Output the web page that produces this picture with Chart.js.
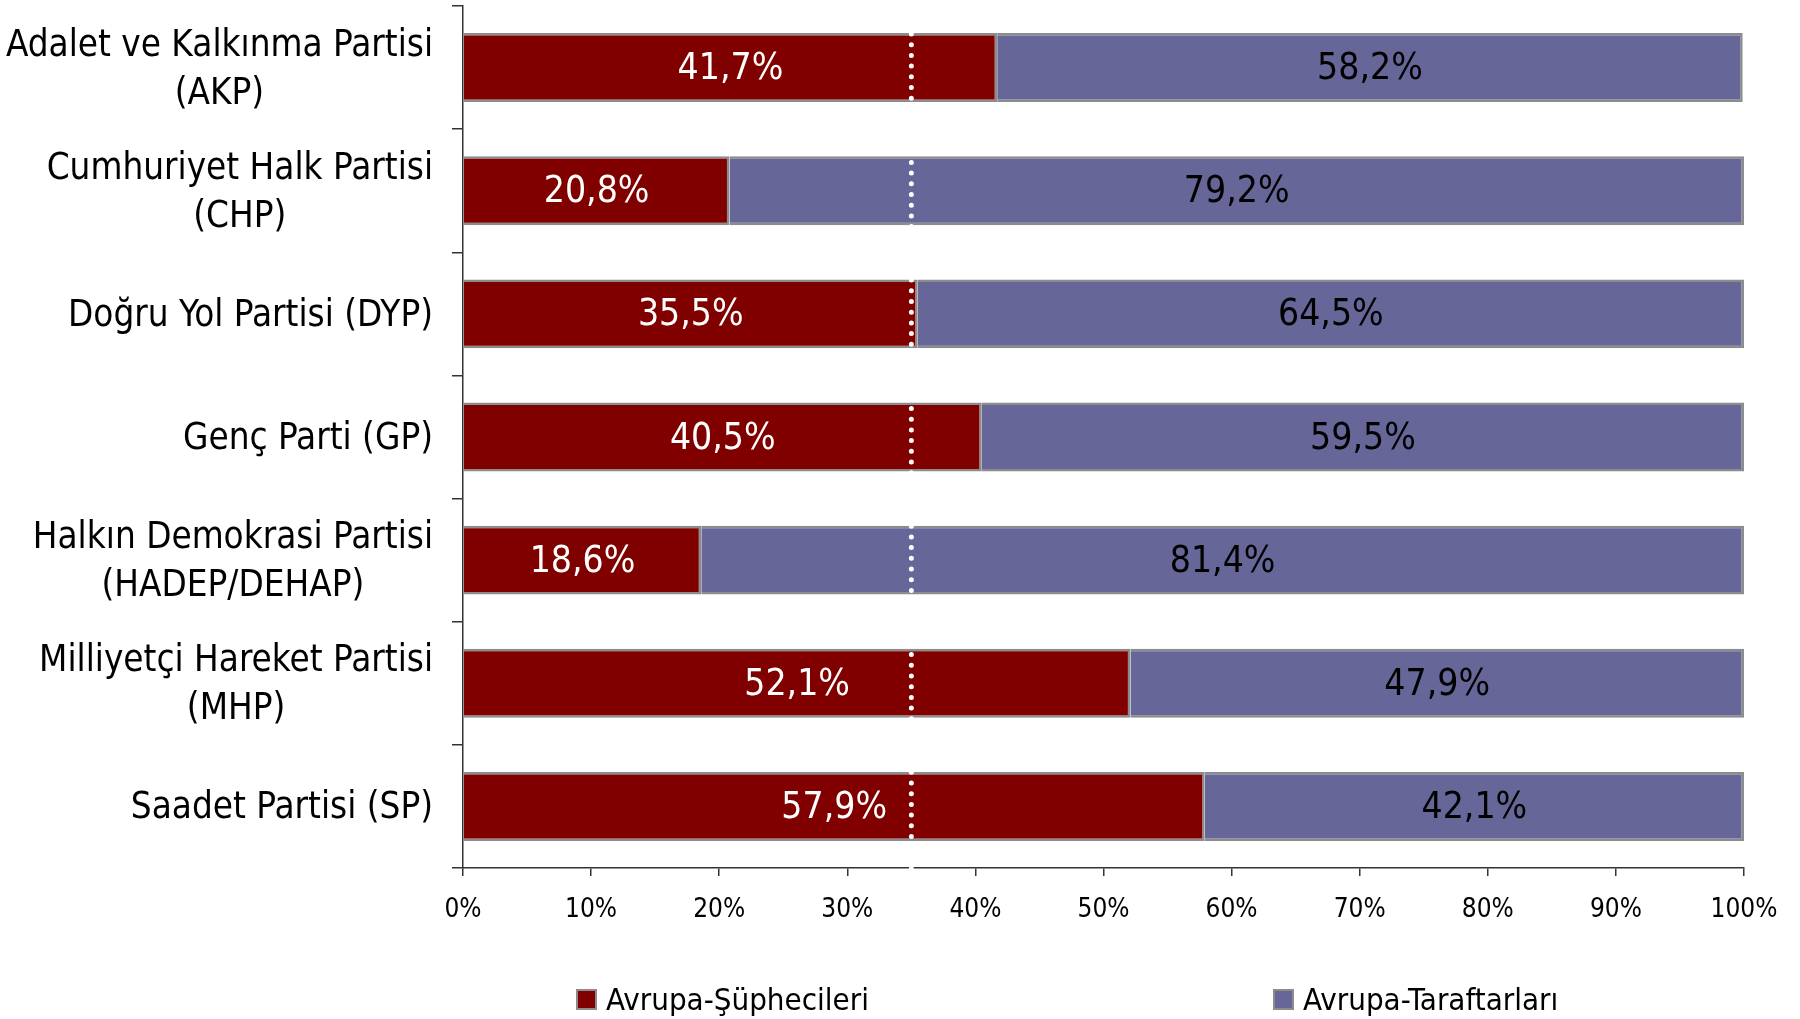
<!DOCTYPE html>
<html>
<head>
<meta charset="utf-8">
<script src="https://cdn.jsdelivr.net/npm/chart.js@4.4.1/dist/chart.umd.min.js"></script>
<style>
    body { margin: 0; background: #fff; }
    #wrap { position: relative; width: 1800px; height: 1019px; }
    #legend { position: absolute; left: 0; top: 981px; width: 1800px; height: 30px;
              font-family: "DejaVu Sans Condensed", "DejaVu Sans", sans-serif; font-size: 31px; color: #000; }
    .item { position: absolute; top: 0; display: flex; align-items: center; white-space: nowrap; }
    .box { width: 21px; height: 21px; border: 2px solid #8c8c8c; margin-right: 9px; box-sizing: border-box; }
</style>
</head>
<body>
<div id="wrap">
    <canvas id="myChart" width="1800" height="1019"></canvas>
    <div id="legend"></div>
</div>
<script>
const partiler = [
    ['Adalet ve Kalkınma Partisi', '(AKP)'],
    ['Cumhuriyet Halk Partisi', '(CHP)'],
    ['Doğru Yol Partisi (DYP)'],
    ['Genç Parti (GP)'],
    ['Halkın Demokrasi Partisi', '(HADEP/DEHAP)'],
    ['Milliyetçi Hareket Partisi', '(MHP)'],
    ['Saadet Partisi (SP)']
];
const supheciler = [41.7, 20.8, 35.5, 40.5, 18.6, 52.1, 57.9];
const taraftarlar = [58.2, 79.2, 64.5, 59.5, 81.4, 47.9, 42.1];
const seriAdlari = ['Avrupa-Şüphecileri', 'Avrupa-Taraftarları'];
const yuzdeTikleri = [0, 10, 20, 30, 40, 50, 60, 70, 80, 90, 100];
const ortalama = 35;

const FONT = '"DejaVu Sans Condensed", "DejaVu Sans", sans-serif';

// degerleri cubuklarin ortasina yaz
const degerEtiketleri = {
    id: 'degerEtiketleri',
    afterDatasetsDraw(chart) {
        const ctx = chart.ctx;
        ctx.save();
        ctx.font = '37px ' + FONT;
        ctx.textAlign = 'center';
        ctx.textBaseline = 'middle';
        chart.data.datasets.forEach((ds, i) => {
            ctx.fillStyle = i === 0 ? '#ffffff' : '#000000';
            chart.getDatasetMeta(i).data.forEach((bar, j) => {
                const txt = ds.data[j].toFixed(1).replace('.', ',') + '%';
                ctx.fillText(txt, (bar.x + bar.base) / 2, bar.y + 2);
            });
        });
        // ortalama cizgisi
        const x = chart.scales.x.getPixelForValue(ortalama);
        ctx.strokeStyle = '#ffffff';
        ctx.lineWidth = 5;
        ctx.lineCap = 'round';
        ctx.setLineDash([0, 10.7]);
        ctx.beginPath();
        ctx.moveTo(x, chart.chartArea.top + 28);
        ctx.lineTo(x, chart.chartArea.bottom + 4);
        ctx.stroke();
        ctx.restore();
    }
};

// parti isimleri: en uzun satir saga yasli, diger satir ortali
const partiEtiketleri = {
    id: 'partiEtiketleri',
    afterDraw(chart) {
        const ctx = chart.ctx;
        const y = chart.scales.y;
        const sag = y.right - 30;
        const satir = 48;
        ctx.save();
        ctx.font = '36.5px ' + FONT;
        ctx.fillStyle = '#000';
        ctx.textAlign = 'center';
        ctx.textBaseline = 'middle';
        partiler.forEach((lines, i) => {
            const w = Math.max(...lines.map(l => ctx.measureText(l).width));
            const cx = sag - w / 2;
            const cy = y.getPixelForTick(i) + 2.5 - (lines.length - 1) * satir / 2;
            lines.forEach((l, k) => ctx.fillText(l, cx, cy + k * satir));
        });
        ctx.restore();
    }
};

const myChart = new Chart(document.getElementById('myChart'), {
    type: 'bar',
    data: {
        labels: partiler,
        datasets: [
            { label: seriAdlari[0], data: supheciler, backgroundColor: '#800000', borderColor: '#8c8c8c',
              borderWidth: { top: 2.5, bottom: 2.5, left: 0, right: 2.5 }, borderSkipped: false },
            { label: seriAdlari[1], data: taraftarlar, backgroundColor: '#666699', borderColor: '#8c8c8c',
              borderWidth: { top: 2.5, bottom: 2.5, left: 0, right: 2.5 }, borderSkipped: false }
        ]
    },
    options: {
        indexAxis: 'y',
        responsive: false,
        animation: false,
        layout: { padding: { top: 6, right: 56, left: 0, bottom: 0 } },
        datasets: { bar: { categoryPercentage: 1, barPercentage: 0.56 } },
        plugins: { legend: { display: false }, tooltip: { enabled: false } },
        scales: {
            x: {
                stacked: true, min: 0, max: 100,
                afterBuildTicks: (s) => { s.ticks = yuzdeTikleri.map(v => ({ value: v })); },
                afterFit: (s) => { s.height = 151; },
                grid: { drawOnChartArea: false, drawTicks: true, tickLength: 8, color: '#333', lineWidth: 1.5 },
                border: { display: true, color: '#333', width: 1.5 },
                ticks: { color: '#000', font: { family: FONT, size: 26 }, padding: 19, maxRotation: 0,
                         callback: (v) => v + '%' }
            },
            y: {
                stacked: true, offset: true,
                afterFit: (s) => { s.width = 463; },
                grid: { offset: true, drawOnChartArea: false, drawTicks: true, tickLength: 11, color: '#333', lineWidth: 1.5 },
                border: { display: true, color: '#333', width: 1.5 },
                ticks: { display: false }
            }
        }
    },
    plugins: [degerEtiketleri, partiEtiketleri]
});

// lejant
const lejant = document.getElementById('legend');
const lejantX = [576, 1273];
myChart.data.datasets.forEach((ds, i) => {
    const it = document.createElement('div');
    it.className = 'item';
    it.style.left = lejantX[i] + 'px';
    it.innerHTML = '<span class="box" style="background:' + ds.backgroundColor + '"></span>' + ds.label;
    lejant.appendChild(it);
});
</script>
</body>
</html>
